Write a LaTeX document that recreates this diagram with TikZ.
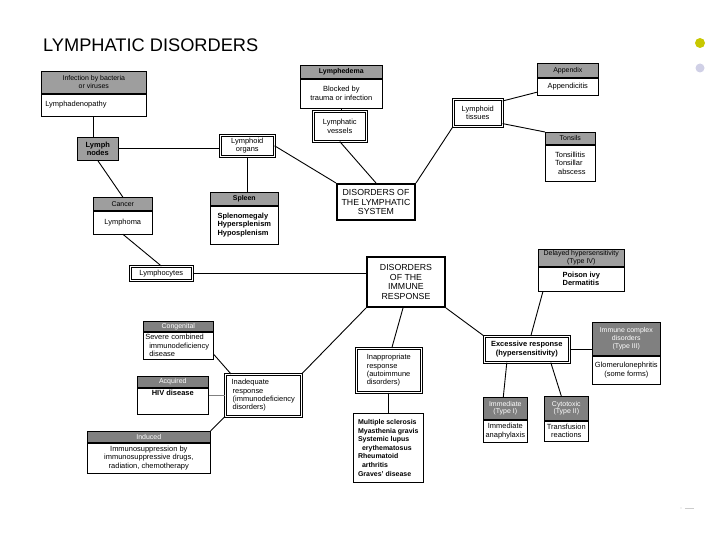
\documentclass[tikz,border=0pt]{standalone}
\usepackage{fontspec}
\setmainfont{Liberation Sans}
\usetikzlibrary{positioning}
\definecolor{hdgray}{gray}{0.62}
\definecolor{hddark}{gray}{0.5}
\definecolor{dotyellow}{RGB}{200,200,0}
\definecolor{dotlilac}{RGB}{208,208,230}
\newcommand{\bxfont}{\fontsize{7.5}{8.5}\selectfont}
\newcommand{\hdfont}{\fontsize{7}{7.8}\selectfont}
\newcommand{\sysfont}{\fontsize{8.8}{10}\selectfont}
\tikzset{
	hd/.style={draw, fill=hdgray, line width=0.6bp, minimum width=#1bp, inner sep=1bp, align=center, font=\hdfont, anchor=north west},
	hdk/.style={hd=#1, fill=hddark, text=white},
	bd/.style={draw, fill=white, line width=0.6bp, minimum width=#1bp, inner sep=1.5bp, align=center, font=\bxfont},
	dbl/.style={draw, double, double distance=1.4bp, line width=0.6bp, fill=white, align=center, font=\bxfont, inner sep=1.5bp, anchor=north west},
	sys/.style={draw, line width=2bp, fill=white, align=center, font=\sysfont, anchor=north west},
	con/.style={line width=0.9bp}
}

\begin{document}
\begin{tikzpicture}[x=1bp, y=-1bp]
	\useasboundingbox (0,0) rectangle (720,540);
	\node[anchor=base west, inner sep=0, font=\fontsize{18.3}{20}\selectfont] (title) at (43,52) {LYMPHATIC DISORDERS};
	\fill[dotyellow] (700,43) circle (5bp);
	\fill[dotlilac] (700,68) circle (4.5bp);
	\draw[gray!40, line width=0.8bp] (685,508) -- (694,508);
	\fill[gray!40] (681,508) circle (0.6bp);

	% lymphatic system
	\node[hd=105, minimum height=22bp] (infhd) at (41,71) {Infection by bacteria\\or viruses};
	\node[bd=105, minimum height=22bp, below=0pt of infhd, text width=97bp, align=left] (inf) {Lymphadenopathy};
	\node[hd=41, minimum height=23bp, font=\bxfont\bfseries] (lnodes) at (77,137) {Lymph\\nodes};
	\node[dbl, minimum width=54bp, minimum height=21bp] (lorgans) at (220,135) {Lymphoid\\organs};
	\node[hd=59, minimum height=13bp] (cancerhd) at (93,197) {Cancer};
	\node[bd=59, minimum height=23bp, below=0pt of cancerhd] (cancer) {Lymphoma};
	\node[hd=68, minimum height=13bp, font=\hdfont\bfseries] (spleenhd) at (210,192) {Spleen};
	\node[bd=68, minimum height=38bp, below=0pt of spleenhd, align=left, font=\bxfont\bfseries] (spleen) {Splenomegaly\\Hypersplenism\\Hyposplenism};
	\node[dbl, minimum width=62bp, minimum height=14bp] (lcytes) at (130,266) {Lymphocytes};
	\node[hd=82, minimum height=13bp, font=\hdfont\bfseries] (edemahd) at (300,65) {Lymphedema};
	\node[bd=82, minimum height=29bp, below=0pt of edemahd] (edema) {Blocked by\\trauma or infection};
	\node[dbl, minimum width=53bp, minimum height=30bp] (lvessels) at (313,111) {Lymphatic\\vessels};
	\node[sys, minimum width=78bp, minimum height=36bp] (lsys) at (336,183) {DISORDERS OF\\THE LYMPHATIC\\SYSTEM};
	\node[dbl, minimum width=49bp, minimum height=27bp] (ltissues) at (453,99) {Lymphoid\\tissues};
	\node[hd=61, minimum height=14bp] (apphd) at (537,63) {Appendix};
	\node[bd=61, minimum height=17bp, below=0pt of apphd] (app) {Appendicitis};
	\node[hd=50, minimum height=12bp] (tonhd) at (545,132) {Tonsils};
	\node[bd=50, minimum height=36bp, below=0pt of tonhd, align=left] (ton) {Tonsillitis\\Tonsillar\\\hspace*{3bp}abscess};

	% immune response
	\node[sys, minimum width=78bp, minimum height=50bp, font=\fontsize{8.8}{9.4}\selectfont] (isys) at (366,256) {DISORDERS\\OF THE\\IMMUNE\\RESPONSE};
	\node[hd=86, minimum height=17bp] (delhd) at (538,249) {Delayed hypersensitivity\\(Type IV)};
	\node[bd=86, minimum height=24bp, below=0pt of delhd, align=left, font=\bxfont\bfseries] (del) {Poison ivy\\Dermatitis};
	\node[dbl, minimum width=85bp, minimum height=26bp, font=\bxfont\bfseries] (excess) at (484,336) {Excessive response\\(hypersensitivity)};
	\node[hdk=68, minimum height=33bp] (cplxhd) at (592,322) {Immune complex\\disorders\\(Type III)};
	\node[bd=68, minimum height=28bp, below=0pt of cplxhd] (cplx) {Glomerulonephritis\\(some forms)};
	\node[hdk=44, minimum height=22bp] (immhd) at (483,397) {Immediate\\(Type I)};
	\node[bd=44, minimum height=22bp, below=0pt of immhd] (imm) {Immediate\\anaphylaxis};
	\node[hdk=44, minimum height=24bp] (cytohd) at (544,396) {Cytotoxic\\(Type II)};
	\node[bd=44, minimum height=20bp, below=0pt of cytohd] (cyto) {Transfusion\\reactions};
	\node[dbl, minimum width=65bp, minimum height=44bp, align=left] (inapp) at (356,348) {Inappropriate\\response\\(autoimmune\\disorders)};
	\node[draw, line width=0.6bp, minimum width=70bp, minimum height=69bp, inner sep=1.5bp, anchor=north west, align=left, font=\fontsize{7}{8.6}\selectfont\bfseries] (multi) at (353,413) {Multiple sclerosis\\Myasthenia gravis\\Systemic lupus\\\hspace*{4bp}erythematosus\\Rheumatoid\\\hspace*{4bp}arthritis\\Graves' disease};
	\node[hdk=70, minimum height=10bp] (conghd) at (143,321) {Congenital};
	\node[bd=70, minimum height=27bp, below=0pt of conghd, text width=66bp, align=left] (cong) {Severe combined\\\hspace*{4bp}immunodeficiency\\\hspace*{4bp}disease};
	\node[hdk=71, minimum height=11bp] (acqhd) at (137,376) {Acquired};
	\node[bd=71, minimum height=26bp, below=0pt of acqhd, font=\bxfont\bfseries] (acq) {HIV disease\\\mbox{}\\\mbox{}};
	\node[dbl, minimum width=76bp, minimum height=42bp, align=left] (inadeq) at (225,374) {Inadequate\\\hspace*{1bp}response\\\hspace*{1bp}(immunodeficiency\\\hspace*{1bp}disorders)};
	\node[hdk=123, minimum height=11bp] (indhd) at (87,431) {Induced};
	\node[bd=123, minimum height=30bp, below=0pt of indhd] (ind) {Immunosuppression by\\immunosuppressive drugs,\\radiation, chemotherapy};

	% connectors
	\draw[con] (inf.south) -- (inf.south |- lnodes.north);
	\draw[con] (lnodes.east) -- (lnodes.east -| lorgans.west);
	\draw[con] (lnodes.south) -- (cancerhd.north);
	\draw[con] (cancer.south) -- (lcytes.north);
	\draw[con] (lorgans.south) -- (lorgans.south |- spleenhd.north);
	\draw[con] (lorgans.east) -- (lsys.north west);
	\draw[con] (edema.south) -- (edema.south |- lvessels.north);
	\draw[con] (lvessels.south) -- (lsys.north);
	\draw[con] (ltissues.south west) -- (lsys.north east);
	\draw[con] ([yshift=-2bp]ltissues.north east) -- ([yshift=3bp]app.south west);
	\draw[con] ([yshift=3bp]ltissues.south east) -- (tonhd.north west);
	\draw[con] (lcytes.east) -- (lcytes.east -| isys.west);
	\draw[con] (isys.south west) -- (inadeq.north east);
	\draw[con] ([xshift=-3bp]isys.south) -- ([xshift=3bp]inapp.north);
	\draw[con] (isys.south east) -- (excess.north west);
	\draw[con] ([xshift=5bp]del.south west) -- ([xshift=4bp]excess.north);
	\draw[con] (excess.east) -- (excess.east -| cplxhd.west);
	\draw[con] ([xshift=-20bp]excess.south) -- ([xshift=-2bp]immhd.north);
	\draw[con] ([xshift=24bp]excess.south) -- ([xshift=-5bp]cytohd.north);
	\draw[con] (inapp.south) -- (inapp.south |- multi.north);
	\draw[con] ([yshift=5bp]cong.south east) -- ([xshift=6bp]inadeq.north west);
	\draw[con, gray, line width=0.6bp] (inadeq.west -| acq.east) -- (inadeq.west);
	\draw[con] (indhd.north east) -- (inadeq.south west);
\end{tikzpicture}
\end{document}
